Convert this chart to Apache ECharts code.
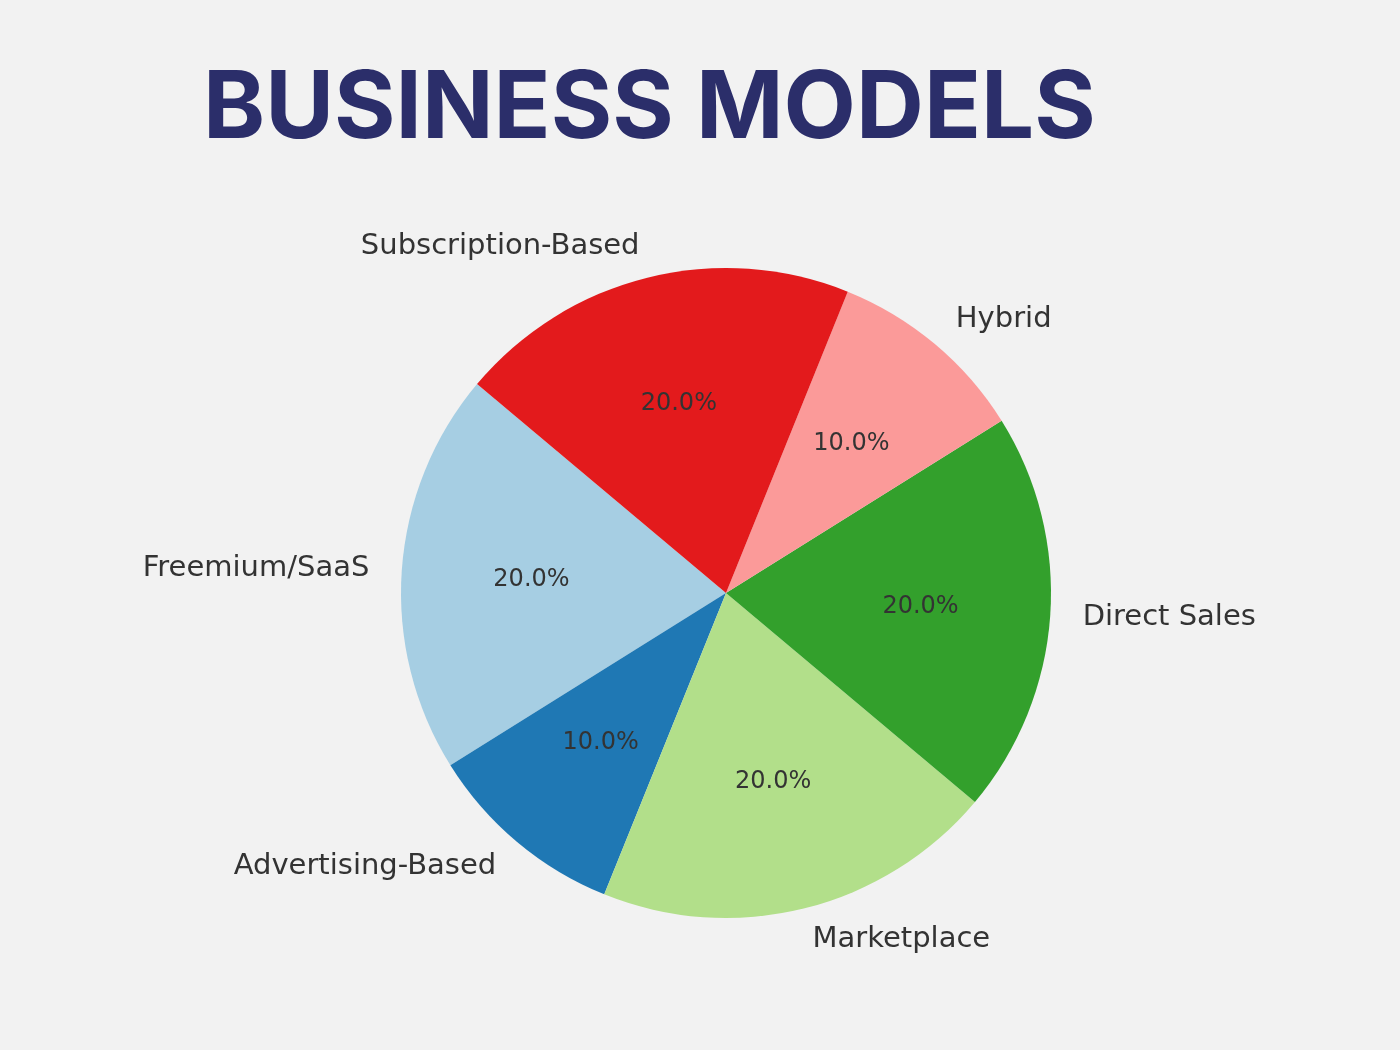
<!DOCTYPE html>
<html>
<head>
<meta charset="utf-8">
<script src="https://cdn.jsdelivr.net/npm/echarts@6/dist/echarts.min.js"></script>
<style>
html,body{margin:0;padding:0;background:#f2f2f2;}
#chart{width:1400px;height:1050px;}
</style>
</head>
<body>
<div id="chart"></div>
<script>
const categories = ['Freemium/SaaS', 'Advertising-Based', 'Marketplace', 'Direct Sales', 'Hybrid', 'Subscription-Based'];
const values = [20, 10, 20, 20, 10, 20];
const colors = ['#a6cee3', '#1f78b4', '#b2df8a', '#33a02c', '#fb9a99', '#e31a1c'];
const titleText = 'BUSINESS MODELS';

const pieData = categories.map((c, i) => ({ name: c, value: values[i], itemStyle: { color: colors[i] } }));
const pctData = categories.map((c, i) => ({ name: c, value: values[i] }));

const chart = echarts.init(document.getElementById('chart'));
const R = 325;
chart.setOption({
  backgroundColor: '#f2f2f2',
  animation: false,
  title: {
    text: titleText,
    left: 198,
    top: 58,
    textStyle: { fontFamily: 'Inter', fontWeight: 700, fontSize: 94, color: '#2b2e6a' }
  },
  series: [
    {
      type: 'pie',
      center: [726, 593],
      radius: [0, R],
      startAngle: 140,
      clockwise: false,
      avoidLabelOverlap: false,
      silent: true,
      data: pieData,
      itemStyle: { borderWidth: 0 },
      label: {
        show: true,
        position: 'outside',
        distanceToLabelLine: 0,
        fontFamily: 'DejaVu Sans',
        fontSize: 29,
        color: '#333333',
        formatter: '{b}'
      },
      labelLine: { show: false, length: R * 0.1, length2: 0 }
    },
    {
      type: 'pie',
      center: [726, 593],
      radius: [0, 2 * (R * 0.6 - 3)],
      startAngle: 140,
      clockwise: false,
      avoidLabelOverlap: false,
      silent: true,
      data: pctData,
      itemStyle: { color: 'rgba(0,0,0,0)', borderWidth: 0 },
      label: {
        show: true,
        position: 'inside',
        fontFamily: 'DejaVu Sans',
        fontSize: 24,
        color: '#333333',
        formatter: p => p.percent.toFixed(1) + '%'
      },
      labelLine: { show: false }
    }
  ]
});
</script>
</body>
</html>
